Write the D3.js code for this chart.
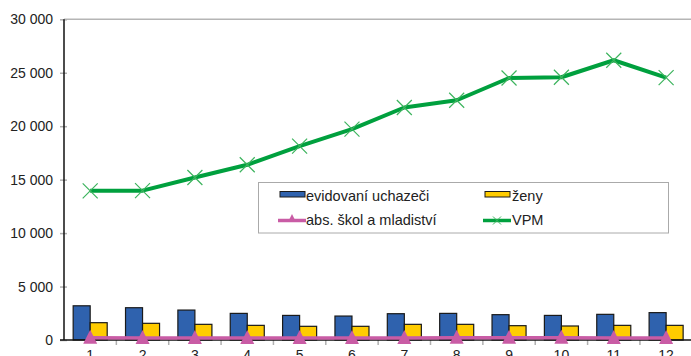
<!DOCTYPE html>
<html><head><meta charset="utf-8">
<script src="https://cdn.jsdelivr.net/npm/d3@7"></script>
<style>
html,body{margin:0;padding:0;background:#fff;overflow:hidden}
text{font-family:"Liberation Sans",Arial,sans-serif;fill:#222}
</style></head>
<body>
<svg id="c" width="691" height="356"></svg>
<script>
const months = ["1","2","3","4","5","6","7","8","9","10","11","12"];
const evidovani = [3200, 3020, 2800, 2490, 2300, 2240, 2460, 2490, 2370, 2300, 2400, 2560];
const zeny = [1620, 1560, 1465, 1370, 1280, 1280, 1465, 1465, 1340, 1310, 1370, 1370];
const absolventi = [200, 195, 190, 185, 185, 190, 195, 200, 205, 200, 195, 195];
const vpm = [13950, 13970, 15200, 16390, 18130, 19720, 21750, 22430, 24510, 24580, 26170, 24550];
const yTicks = [0, 5000, 10000, 15000, 20000, 25000, 30000];
const seriesNames = ["evidovaní uchazeči", "ženy", "abs. škol a mladiství", "VPM"];
const colors = {blue:"#2F62AE", yellow:"#FFCC00", pink:"#C95CA5", green:"#00A03E", greenMark:"#3DB45E"};

(function(){
const svg = d3.select("#c");
const pL = 64, pR = 692.3, pT = 19.3, pB = 340;
const x = d3.scaleBand().domain(months).range([pL, pR]).paddingInner(0.35).paddingOuter(0.175);
const xc = d => x(d) + x.bandwidth()/2;
const xs = d3.scaleBand().domain(["e","z"]).range([0, x.bandwidth()]);
const y = d3.scaleLinear().domain([0, 30000]).range([pB, pT]);
const fmt = v => v === 0 ? "0" : d3.format(",")(v).replace(/,/g, "\u00a0");

// top border
svg.append("line").attr("x1", pL).attr("x2", 691).attr("y1", pT).attr("y2", pT)
  .attr("stroke", "#b5b5b5").attr("stroke-width", 1.5);

// y axis
const ya = svg.append("g").attr("transform", `translate(${pL},0)`)
  .call(d3.axisLeft(y).tickValues(yTicks).tickFormat(fmt).tickSize(4).tickPadding(8));
ya.select(".domain").remove();
ya.selectAll(".tick line").attr("stroke", "#b0b0b0").attr("stroke-width", 1.5).attr("x1", -4).attr("x2", 3);
ya.selectAll(".tick text").attr("font-size", 14).attr("x", -11).style("font-family", "Liberation Sans, Arial, sans-serif").attr("fill", "#222");

// x ticks between categories
const step = x.step();
const boundaries = months.slice(1).map(m => x(m) - step*0.35/2);
svg.selectAll(".xt").data(boundaries).enter().append("line")
  .attr("x1", d => d).attr("x2", d => d).attr("y1", pB).attr("y2", pB + 5)
  .attr("stroke", "#b0b0b0").attr("stroke-width", 1.5);

// bars
const g = svg.append("g");
months.forEach((m, i) => {
  g.append("rect").attr("x", x(m) + xs("e")).attr("width", xs.bandwidth())
    .attr("y", y(evidovani[i])).attr("height", y(0) - y(evidovani[i]))
    .attr("fill", colors.blue).attr("stroke", "#1a1a1a").attr("stroke-width", 1.2);
  g.append("rect").attr("x", x(m) + xs("z")).attr("width", xs.bandwidth())
    .attr("y", y(zeny[i])).attr("height", y(0) - y(zeny[i]))
    .attr("fill", colors.yellow).attr("stroke", "#1a1a1a").attr("stroke-width", 1.2);
});

// axes lines
svg.append("line").attr("x1", pL).attr("x2", pL).attr("y1", pT).attr("y2", pB)
  .attr("stroke", "#111").attr("stroke-width", 1.5);
svg.append("line").attr("x1", pL - 4).attr("x2", 691).attr("y1", pB).attr("y2", pB)
  .attr("stroke", "#111").attr("stroke-width", 1.5);

// x labels
svg.selectAll(".xl").data(months).enter().append("text")
  .attr("x", d => xc(d)).attr("y", 360).attr("text-anchor", "middle")
  .attr("font-size", 14).text(d => d);

// pink line
const line = d3.line().x((d, i) => xc(months[i])).y(d => y(d));
svg.append("path").datum(absolventi).attr("d", line).attr("fill", "none")
  .attr("stroke", colors.pink).attr("stroke-width", 3.5);
const tri = (cx, cy, s) => `M${cx},${cy - s}L${cx + s},${cy + s}L${cx - s},${cy + s}Z`;
svg.selectAll(".tri").data(absolventi).enter().append("path")
  .attr("d", (d, i) => tri(xc(months[i]), y(d) - 1, 7)).attr("fill", colors.pink);

// green line
svg.append("path").datum(vpm).attr("d", line).attr("fill", "none")
  .attr("stroke", colors.green).attr("stroke-width", 4).attr("stroke-linejoin", "round");
const xm = (cx, cy, s) => `M${cx - s},${cy - s}L${cx + s},${cy + s}M${cx - s},${cy + s}L${cx + s},${cy - s}`;
svg.selectAll(".xm").data(vpm).enter().append("path")
  .attr("d", (d, i) => xm(xc(months[i]), y(d), 7.5)).attr("fill", "none")
  .attr("stroke", colors.greenMark).attr("stroke-width", 1.2);

// legend
const lg = svg.append("g");
lg.append("rect").attr("x", 258.5).attr("y", 182.5).attr("width", 410).attr("height", 50.5)
  .attr("fill", "#fff").attr("stroke", "#aaa").attr("stroke-width", 1);
const fs = 14.5;
lg.append("rect").attr("x", 280).attr("y", 191.5).attr("width", 25).attr("height", 5.5)
  .attr("fill", colors.blue).attr("stroke", "#1a1a1a").attr("stroke-width", 1);
lg.append("text").attr("x", 306).attr("y", 200.5).attr("font-size", fs).text(seriesNames[0]);
lg.append("rect").attr("x", 485).attr("y", 191.5).attr("width", 25).attr("height", 5.5)
  .attr("fill", colors.yellow).attr("stroke", "#1a1a1a").attr("stroke-width", 1);
lg.append("text").attr("x", 512).attr("y", 200.5).attr("font-size", fs).text(seriesNames[1]);
lg.append("line").attr("x1", 278).attr("x2", 306).attr("y1", 220.5).attr("y2", 220.5)
  .attr("stroke", colors.pink).attr("stroke-width", 3.5);
lg.append("path").attr("d", tri(292, 218, 4)).attr("fill", colors.pink);
lg.append("text").attr("x", 306).attr("y", 225).attr("font-size", fs).text(seriesNames[2]);
lg.append("line").attr("x1", 483).attr("x2", 511).attr("y1", 220.5).attr("y2", 220.5)
  .attr("stroke", colors.green).attr("stroke-width", 3.5);
lg.append("path").attr("d", xm(497, 220.5, 4)).attr("fill", "none")
  .attr("stroke", colors.greenMark).attr("stroke-width", 1);
lg.append("text").attr("x", 512).attr("y", 225).attr("font-size", fs).text(seriesNames[3]);
})();
</script>
</body></html>
